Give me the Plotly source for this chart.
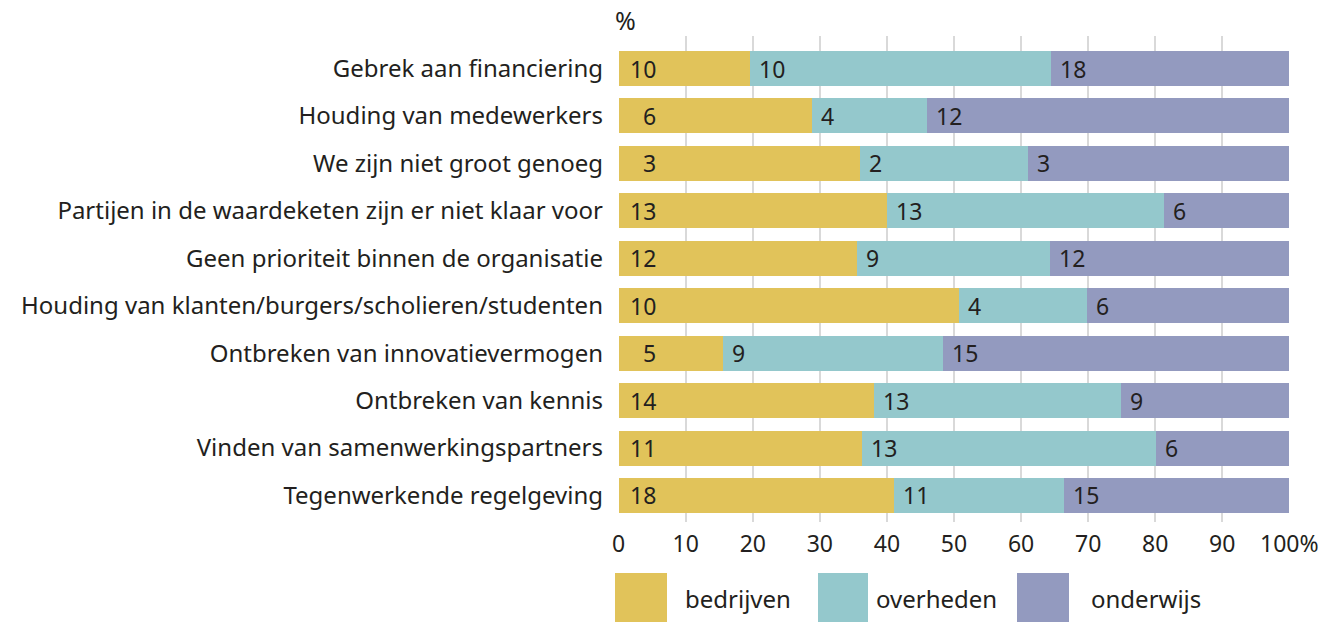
import plotly.graph_objects as go

categories = [
    "Gebrek aan financiering",
    "Houding van medewerkers",
    "We zijn niet groot genoeg",
    "Partijen in de waardeketen zijn er niet klaar voor",
    "Geen prioriteit binnen de organisatie",
    "Houding van klanten/burgers/scholieren/studenten",
    "Ontbreken van innovatievermogen",
    "Ontbreken van kennis",
    "Vinden van samenwerkingspartners",
    "Tegenwerkende regelgeving",
]
series_names = ["bedrijven", "overheden", "onderwijs"]

# bar segment shares (% of the 100% bar)
share_bedrijven = [19.6, 28.9, 36.0, 40.0, 35.5, 50.8, 15.5, 38.1, 36.3, 41.1]
share_overheden = [44.9, 17.1, 25.0, 41.3, 28.8, 19.1, 32.8, 36.8, 43.8, 25.3]
share_onderwijs = [35.5, 54.0, 39.0, 18.7, 35.7, 30.1, 51.7, 25.1, 19.9, 33.6]

# printed labels inside the segments
label_bedrijven = [10, 6, 3, 13, 12, 10, 5, 14, 11, 18]
label_overheden = [10, 4, 2, 13, 9, 4, 9, 13, 13, 11]
label_onderwijs = [18, 12, 3, 6, 12, 6, 15, 9, 6, 15]

x_ticks = [0, 10, 20, 30, 40, 50, 60, 70, 80, 90, 100]
x_ticktext = ["0", "10", "20", "30", "40", "50", "60", "70", "80", "90", "100%"]

colors = ["#E1C35A", "#94C8CC", "#939ABF"]
text_color = "#231F20"
font_family = "Noto Sans, Open Sans, sans-serif"
LABEL_SIZE = 24
NUM_SIZE = 23

W, H = 1337, 622
ML, MR, MT, MB = 618, 47, 36, 100
PW, PH = W - ML - MR, H - MT - MB


def px_x(px):
    return (px - ML) / PW


def px_y(py):
    return (H - MB - py) / PH


shares = [share_bedrijven, share_overheden, share_onderwijs]
labels = [label_bedrijven, label_overheden, label_onderwijs]

fig = go.Figure()
for name, sh, col in zip(series_names, shares, colors):
    fig.add_trace(go.Bar(
        y=categories, x=sh, orientation="h", name=name,
        marker=dict(color=col, line=dict(width=0)),
        hoverinfo="skip", showlegend=False,
    ))

num_font = dict(size=NUM_SIZE, color=text_color, family=font_family)
annotations = []
for i, cat in enumerate(categories):
    start = 0.0
    for s, (sh, lab) in enumerate(zip(shares, labels)):
        if s == 0:
            annotations.append(dict(
                x=0, y=cat, xref="x", yref="y", text=str(lab[i]),
                xanchor="right", yanchor="middle", xshift=39, showarrow=False,
                font=num_font))
        else:
            annotations.append(dict(
                x=start, y=cat, xref="x", yref="y", text=str(lab[i]),
                xanchor="left", yanchor="middle", xshift=7, showarrow=False,
                font=num_font))
        start += sh[i]

# axis unit label
annotations.append(dict(x=0, y=px_y(20), xref="x", yref="paper", text="%",
                        xanchor="left", yanchor="middle", xshift=-6, showarrow=False,
                        font=dict(size=25, color=text_color, family=font_family)))

# legend (custom, large swatches)
shapes = []
legend_swatches = [(615, 667), (818, 868), (1017, 1069)]
legend_text_x = [683, 874, 1089]
for (x0, x1), tx, name, col in zip(legend_swatches, legend_text_x, series_names, colors):
    shapes.append(dict(type="rect", xref="paper", yref="paper",
                       x0=px_x(x0), x1=px_x(x1), y0=px_y(573), y1=px_y(624),
                       fillcolor=col, line=dict(width=0)))
    annotations.append(dict(x=px_x(tx), y=px_y(598), xref="paper", yref="paper",
                            text=name, xanchor="left", yanchor="middle", showarrow=False,
                            font=dict(size=LABEL_SIZE, color=text_color, family=font_family)))

fig.update_layout(
    width=W, height=H,
    margin=dict(l=ML, r=MR, t=MT, b=MB, pad=0),
    barmode="stack", bargap=0.262,
    plot_bgcolor="white", paper_bgcolor="white",
    font=dict(family=font_family, size=LABEL_SIZE, color=text_color),
    annotations=annotations, shapes=shapes,
    showlegend=False,
)
fig.update_xaxes(
    range=[-0.1, 100.1], tickvals=x_ticks, ticktext=x_ticktext,
    showgrid=True, gridcolor="#D9D9D9", gridwidth=2, zeroline=False,
    showline=False, ticks="", ticklabelstandoff=6,
    tickfont=dict(size=NUM_SIZE, color=text_color, family=font_family),
)
fig.update_yaxes(
    categoryorder="array", categoryarray=categories,
    range=[9.559, -0.685], showgrid=False, zeroline=False, showline=False,
    ticks="", ticklabelstandoff=14,
    tickfont=dict(size=LABEL_SIZE, color=text_color, family=font_family),
)

fig.write_html("out.html", config={"displayModeBar": False},
               post_script="document.body.style.margin='0';")
